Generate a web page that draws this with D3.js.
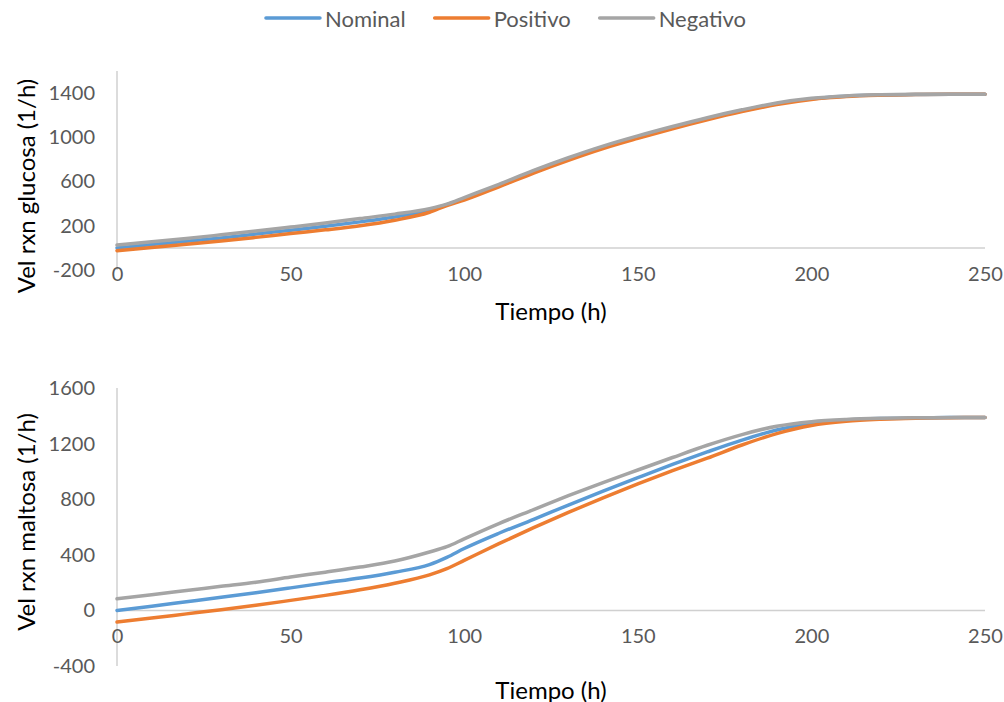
<!DOCTYPE html>
<html><head><meta charset="utf-8">
<script src="https://cdn.jsdelivr.net/npm/d3@7"></script>
<style>
html,body{margin:0;padding:0;background:#fff;}
svg{display:block;font-family:Lato,"Open Sans",sans-serif;}
</style></head>
<body>
<svg id="chart" width="1004" height="702"></svg>
<script>
// ---- data ----
const times = [0,10,20,30,40,50,60,70,80,90,95,100,110,120,130,140,150,160,170,180,190,200,210,220,230,240,250];

const glucosaNominal  = [0,30,60,90,125,160,195,235,280,340,390,445,565,690,805,910,1002,1088,1168,1240,1303,1347,1371,1382,1387,1389,1390];
const glucosaPositivo = [-25,3,33,62,95,130,163,200,250,322,383,432,552,677,792,898,990,1077,1158,1232,1296,1342,1368,1380,1386,1389,1390];
const glucosaNegativo = [25,55,85,118,152,188,225,265,305,355,395,455,575,700,815,920,1012,1097,1177,1248,1310,1352,1374,1384,1388,1389,1390];

const maltosaNominal  = [0,30,62,94,127,162,198,233,275,330,382,445,555,655,758,858,955,1050,1140,1225,1298,1346,1369,1380,1385,1387,1388];
const maltosaPositivo = [-84,-55,-25,5,37,72,108,148,195,255,300,360,480,595,705,810,910,1005,1095,1190,1272,1330,1360,1375,1383,1386,1388];
const maltosaNegativo = [84,113,143,173,203,240,275,312,355,420,458,515,625,725,825,920,1010,1100,1188,1265,1325,1358,1374,1382,1386,1387,1388];

const seriesNames = ["Nominal","Positivo","Negativo"];
const seriesColors = ["#5B9BD5","#ED7D31","#A5A5A5"];

const xTicks = [0,50,100,150,200,250];
const yTicksGlucosa = [-200,200,600,1000,1400];
const yTicksMaltosa = [-400,0,400,800,1200,1600];

const panels = [
  {title:"Vel rxn glucosa (1/h)", series:[glucosaNominal,glucosaPositivo,glucosaNegativo],
   yDomain:[-200,1600], yRange:[270,70.9], yTicks:yTicksGlucosa, xLabelY:281, xTitleY:310, yTitleY:186},
  {title:"Vel rxn maltosa (1/h)", series:[maltosaNominal,maltosaPositivo,maltosaNegativo],
   yDomain:[-400,1600], yRange:[666,388], yTicks:yTicksMaltosa, xLabelY:643, xTitleY:689, yTitleY:522}
];

// ---- drawing ----
const svg = d3.select("#chart");
const x = d3.scaleLinear().domain([0,250]).range([117,985]);
const tickColor = "#595959";
const axisColor = "#D0D0D0";
const fmt = d => String(d);

panels.forEach(p => {
  const y = d3.scaleLinear().domain(p.yDomain).range(p.yRange);
  const g = svg.append("g");

  const yAxis = g.append("g").attr("transform","translate(117,0)")
    .call(d3.axisLeft(y).tickValues(p.yTicks).tickSize(0).tickPadding(22).tickFormat(fmt));
  yAxis.select(".domain").remove();
  yAxis.selectAll("text").attr("fill",tickColor).style("font-size","20px").style("font-family","Lato, sans-serif");

  g.append("line").attr("x1",x(0)).attr("x2",x(0))
    .attr("y1",y(p.yDomain[1])).attr("y2",y(p.yDomain[0]))
    .attr("stroke",axisColor).attr("stroke-width",1.5);
  g.append("line").attr("x1",x(0)).attr("x2",x(250))
    .attr("y1",y(0)).attr("y2",y(0))
    .attr("stroke",axisColor).attr("stroke-width",1.5);

  const xAxis = g.append("g").attr("transform",`translate(0,${p.xLabelY-14})`)
    .call(d3.axisBottom(x).tickValues(xTicks).tickSize(0).tickPadding(0).tickFormat(fmt));
  xAxis.select(".domain").remove();
  xAxis.selectAll("text").attr("fill",tickColor).attr("dy","0.71em").style("font-size","20px").style("font-family","Lato, sans-serif");

  const line = d3.line().x((d,i)=>x(times[i])).y(d=>y(d)).curve(d3.curveMonotoneX);
  p.series.forEach((s,i) => {
    g.append("path").datum(s).attr("d",line)
      .attr("fill","none").attr("stroke",seriesColors[i])
      .attr("stroke-width",3.5).attr("stroke-linejoin","round").attr("stroke-linecap","round");
  });

  g.append("text").attr("x",551).attr("y",p.xTitleY).attr("text-anchor","middle")
    .attr("dominant-baseline","central").attr("fill","#000").style("font-size","24px").text("Tiempo (h)");
  g.append("text").attr("transform",`translate(25,${p.yTitleY}) rotate(-90)`).attr("text-anchor","middle")
    .attr("dominant-baseline","central").attr("fill","#000").style("font-size","24px").text(p.title);
});

// legend
const legend = svg.append("g");
let cx = 0;
seriesNames.forEach((n,i) => {
  const it = legend.append("g");
  it.append("line").attr("x1",0).attr("x2",54).attr("y1",18).attr("y2",18)
    .attr("stroke",seriesColors[i]).attr("stroke-width",3.5).attr("stroke-linecap","round");
  const t = it.append("text").attr("x",59).attr("y",18).attr("dominant-baseline","central")
    .attr("fill",tickColor).style("font-size","22px").text(n);
  const w = 59 + t.node().getComputedTextLength();
  it.attr("transform",`translate(${cx},0)`);
  cx += w + 29;
});
const totalW = cx - 29;
legend.attr("transform",`translate(${506 - totalW/2},0)`);
</script>
</body></html>
